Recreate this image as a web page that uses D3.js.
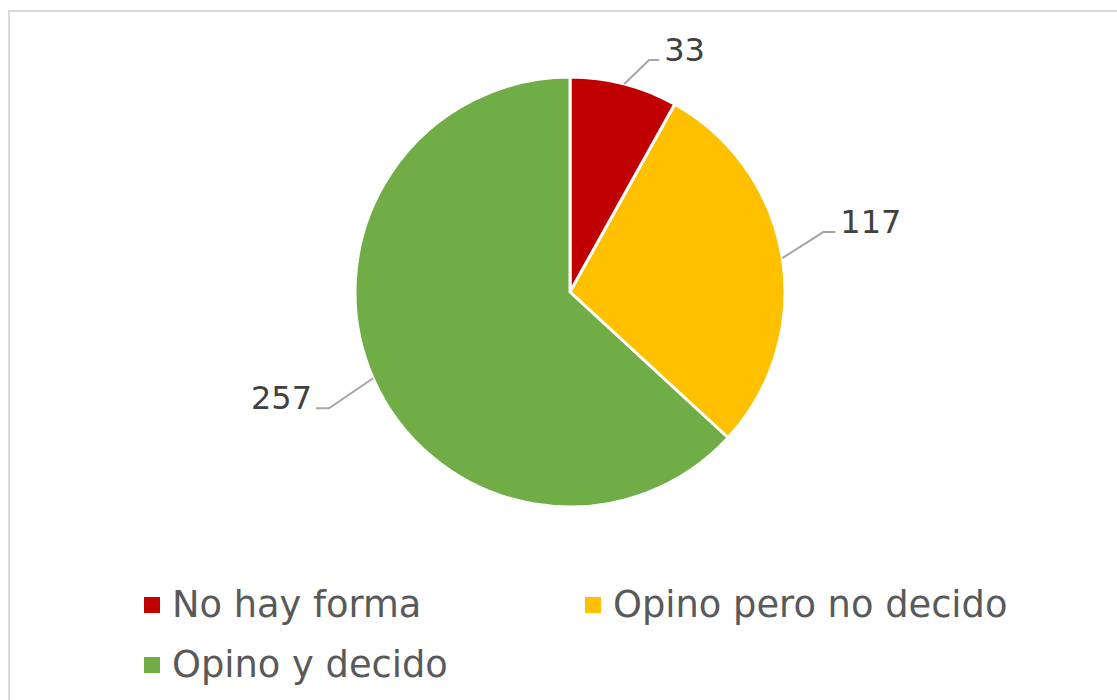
<!DOCTYPE html>
<meta charset="utf-8">
<style>
body {
  margin: 0;
  background: white;
  font-family: Verdana, "DejaVu Sans", sans-serif;
}
</style>
<body>
<script src="https://cdn.jsdelivr.net/npm/d3@7"></script>
<script>

var categories = ["No hay forma", "Opino pero no decido", "Opino y decido"];
var values = [33, 117, 257];
var colors = ["#c00000", "#ffc000", "#70ad47"];

var width = 1117,
    height = 700,
    cx = 570,
    cy = 292,
    radius = 215;

var svg = d3.select("body").append("svg")
    .attr("width", width)
    .attr("height", height);

// chart frame
svg.append("rect")
    .attr("x", 9)
    .attr("y", 11)
    .attr("width", width + 20)
    .attr("height", height + 20)
    .style("fill", "none")
    .style("stroke", "#d9d9d9")
    .style("stroke-width", 2);

var data = categories.map(function(c, i) {
  return {name: c, value: values[i], color: colors[i]};
});

var pie = d3.pie()
    .sort(null)
    .value(function(d) { return d.value; });

var arc = d3.arc()
    .innerRadius(0)
    .outerRadius(radius);

var arcs = pie(data);

var g = svg.append("g")
    .attr("transform", "translate(" + cx + "," + cy + ")");

g.selectAll(".slice")
    .data(arcs)
  .enter().append("path")
    .attr("class", "slice")
    .attr("d", arc)
    .style("fill", function(d) { return d.data.color; })
    .style("stroke", "white")
    .style("stroke-width", 3)
    .style("stroke-linejoin", "round");

// leader lines: elbow offset and label side per slice
var leaders = [
  {dx: 25, dy: -24, run: 10, anchor: "start"},
  {dx: 41, dy: -26, run: 12, anchor: "start"},
  {dx: -44, dy: 30, run: -13, anchor: "end"}
];

arcs.forEach(function(d, i) {
  var mid = (d.startAngle + d.endAngle) / 2;
  var p0 = [Math.sin(mid) * radius, -Math.cos(mid) * radius];
  var l = leaders[i];
  var p1 = [p0[0] + l.dx, p0[1] + l.dy];
  var p2 = [p1[0] + l.run, p1[1]];

  g.append("polyline")
      .attr("points", [p0, p1, p2].map(function(p) { return p.join(","); }).join(" "))
      .style("fill", "none")
      .style("stroke", "#a6a6a6")
      .style("stroke-width", 2);

  g.append("text")
      .attr("x", p2[0] + (l.anchor === "start" ? 5 : -4))
      .attr("y", p2[1] + 1)
      .attr("text-anchor", l.anchor)
      .style("font-size", "32px")
      .style("fill", "#404040")
      .text(d.data.value);
});

// legend
var legendPos = [[144, 617], [585, 617], [144, 677]];

var legend = svg.selectAll(".legend")
    .data(data)
  .enter().append("g")
    .attr("class", "legend")
    .attr("transform", function(d, i) { return "translate(" + legendPos[i][0] + "," + legendPos[i][1] + ")"; });

legend.append("rect")
    .attr("x", 0)
    .attr("y", -20)
    .attr("width", 16)
    .attr("height", 16)
    .style("fill", function(d) { return d.color; });

legend.append("text")
    .attr("x", 28)
    .attr("y", 0)
    .style("font-size", "36.8px")
    .style("fill", "#595959")
    .text(function(d) { return d.name; });

</script>
